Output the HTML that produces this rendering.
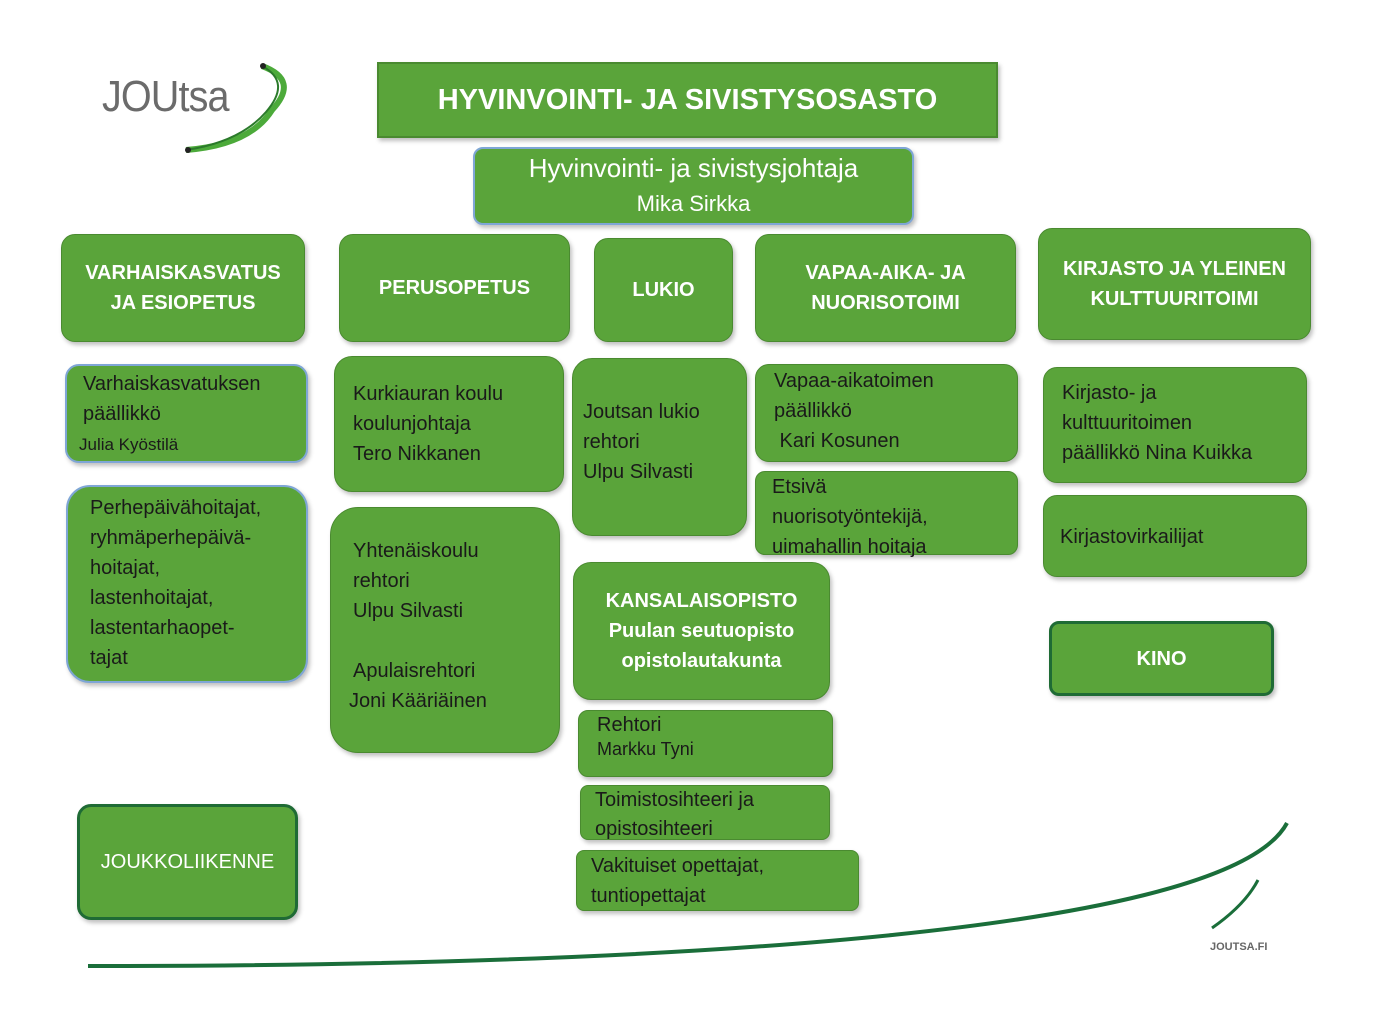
<!DOCTYPE html>
<html><head><meta charset="utf-8"><style>
body{margin:0;width:1375px;height:1020px;background:#fff;position:relative;overflow:hidden;font-family:"Liberation Sans",sans-serif}
.b{position:absolute;box-sizing:border-box;background:#5aa43a;border:1px solid #4a8a30;border-radius:14px;box-shadow:2px 3px 4px rgba(0,0,0,.25)}
.h{color:#fff;font-weight:bold;font-size:20px;display:flex;align-items:center;justify-content:center;text-align:center;line-height:30px}
.t{color:#1a1a1a;font-size:20px;line-height:30px;padding:8px 0 0 18px}
.bl{border:2px solid #7fa6d6}
.dk{border:3px solid #1f6b35}
</style></head><body>
<svg style="position:absolute;left:0;top:0" width="1375" height="1020">
<path d="M262 66 Q300 80 272 110 Q250 145 186 150" stroke="#4caa3a" stroke-width="6" fill="none"/>
<path d="M262 66 Q292 82 266 112 Q240 142 186 150" stroke="#2b7a2b" stroke-width="2" fill="none"/>
<circle cx="263" cy="66" r="3" fill="#222"/><circle cx="188" cy="150" r="3" fill="#222"/>
<path d="M88 966 C 700 966, 1230 930, 1287 823" stroke="#1a6e3a" stroke-width="4" fill="none"/>
<path d="M1212 928 Q1245 905 1258 880" stroke="#1a6e3a" stroke-width="3" fill="none"/>
<text x="1210" y="950" font-family="Liberation Sans" font-weight="bold" font-size="11" fill="#666">JOUTSA.FI</text>
</svg>
<div style="position:absolute;left:102px;top:72px;font-size:44px;color:#6b6b6b;letter-spacing:-1px;transform:scaleX(0.9);transform-origin:left">JOUtsa</div>
<div class="b h" style="left:377px;top:62px;width:621px;height:76px;border-radius:0;font-size:29px;border:2px solid #4a8a30">HYVINVOINTI- JA SIVISTYSOSASTO</div>
<div class="b h bl" style="left:473px;top:147px;width:441px;height:78px;border-radius:10px;font-weight:normal;font-size:26px;line-height:34px"><div>Hyvinvointi- ja sivistysjohtaja<br><span style="font-size:22px">Mika Sirkka</span></div></div>
<div class="b h" style="left:61px;top:234px;width:244px;height:108px">VARHAISKASVATUS<br>JA ESIOPETUS</div>
<div class="b h" style="left:339px;top:234px;width:231px;height:108px">PERUSOPETUS</div>
<div class="b h" style="left:594px;top:238px;width:139px;height:104px">LUKIO</div>
<div class="b h" style="left:755px;top:234px;width:261px;height:108px">VAPAA-AIKA- JA<br>NUORISOTOIMI</div>
<div class="b h" style="left:1038px;top:228px;width:273px;height:112px">KIRJASTO JA YLEINEN<br>KULTTUURITOIMI</div>
<div class="b t bl" style="left:65px;top:364px;width:243px;height:99px;padding-left:16px;padding-top:3px">Varhaiskasvatuksen<br>päällikkö<br><span style="font-size:17px;margin-left:-4px">Julia Kyöstilä</span></div>
<div class="b t bl" style="left:66px;top:485px;width:242px;height:198px;border-radius:24px;padding-left:22px;padding-top:6px">Perhepäivähoitajat,<br>ryhmäperhepäivä-<br>hoitajat,<br>lastenhoitajat,<br>lastentarhaopet-<br>tajat</div>
<div class="b t" style="left:334px;top:356px;width:230px;height:136px;border-radius:18px;padding-top:22px">Kurkiauran koulu<br>koulunjohtaja<br>Tero Nikkanen</div>
<div class="b t" style="left:330px;top:507px;width:230px;height:246px;border-radius:28px;padding-top:28px;padding-left:22px">Yhtenäiskoulu<br>rehtori<br>Ulpu Silvasti<br><br>Apulaisrehtori<br><span style="margin-left:-4px">Joni Kääriäinen</span></div>
<div class="b t" style="left:572px;top:358px;width:175px;height:178px;border-radius:20px;padding-left:10px;padding-top:38px">Joutsan lukio<br>rehtori<br>Ulpu Silvasti</div>
<div class="b t" style="left:755px;top:364px;width:263px;height:98px;padding-top:1px">Vapaa-aikatoimen<br>päällikkö<br>&nbsp;Kari Kosunen</div>
<div class="b t" style="left:755px;top:471px;width:263px;height:84px;padding-top:0;padding-left:16px;border-radius:10px">Etsivä<br>nuorisotyöntekijä,<br>uimahallin hoitaja</div>
<div class="b t" style="left:1043px;top:367px;width:264px;height:116px;padding-top:10px">Kirjasto- ja<br>kulttuuritoimen<br>päällikkö Nina Kuikka</div>
<div class="b t" style="left:1043px;top:495px;width:264px;height:82px;padding-top:26px;padding-left:16px">Kirjastovirkailijat</div>
<div class="b h dk" style="left:1049px;top:621px;width:225px;height:75px;border-radius:10px">KINO</div>
<div class="b h" style="left:573px;top:562px;width:257px;height:138px;border-radius:18px">KANSALAISOPISTO<br>Puulan seutuopisto<br>opistolautakunta</div>
<div class="b t" style="left:578px;top:710px;width:255px;height:67px;border-radius:10px;padding-top:2px;line-height:24px">Rehtori<br><span style="font-size:18px">Markku Tyni</span></div>
<div class="b t" style="left:580px;top:785px;width:250px;height:55px;border-radius:8px;padding-top:0;padding-left:14px;line-height:29px">Toimistosihteeri ja<br>opistosihteeri</div>
<div class="b t" style="left:576px;top:850px;width:283px;height:61px;border-radius:8px;padding-top:0;padding-left:14px;line-height:30px">Vakituiset opettajat,<br>tuntiopettajat</div>
<div class="b h dk" style="left:77px;top:804px;width:221px;height:116px;font-weight:normal">JOUKKOLIIKENNE</div>
</body></html>
